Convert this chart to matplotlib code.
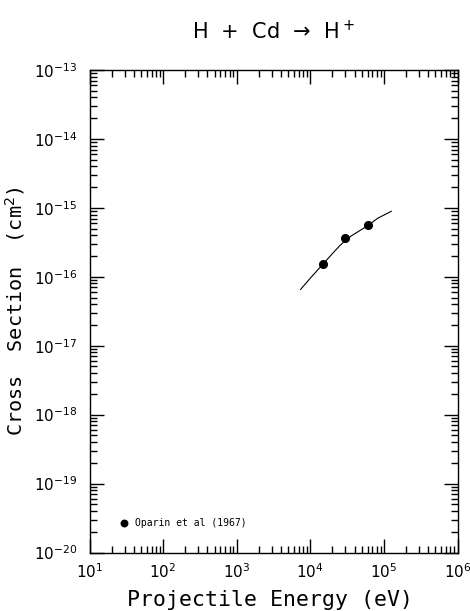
import matplotlib

matplotlib.use("Agg")
import matplotlib.pyplot as plt
from matplotlib.ticker import LogLocator, NullFormatter

# fitted curve (eV, cm^2)
curve_e = [7.38e3, 1.03e4, 1.48e4, 2.03e4, 2.51e4, 3.02e4, 3.63e4, 4.47e4, 5.86e4, 8.26e4, 1.26e5]
curve_sigma = [6.56e-17, 9.89e-17, 1.52e-16, 2.21e-16, 2.82e-16, 3.39e-16, 3.94e-16,
               4.52e-16, 5.40e-16, 7.08e-16, 8.91e-16]

# measured points
oparin_e = [1.5e4, 3.0e4, 6.0e4]
oparin_sigma = [1.51e-16, 3.71e-16, 5.62e-16]

# decade ticks
x_decades = [1e1, 1e2, 1e3, 1e4, 1e5, 1e6]
y_decades = [1e-20, 1e-19, 1e-18, 1e-17, 1e-16, 1e-15, 1e-14, 1e-13]

MONO = "DejaVu Sans Mono"

fig = plt.figure(figsize=(4.70, 6.11), dpi=100)
ax = fig.add_axes([89.5 / 470, 1 - 552.5 / 611, 368 / 470, 482.5 / 611])

ax.plot(curve_e, curve_sigma, color="black", lw=0.8)
ax.plot(oparin_e, oparin_sigma, "o", color="black", ms=5.5, label="Oparin et al (1967)")

ax.set_xscale("log")
ax.set_yscale("log")
ax.set_xticks(x_decades)
ax.set_yticks(y_decades)
ax.set_xlim(x_decades[0], x_decades[-1])
ax.set_ylim(y_decades[0], y_decades[-1])

for axis in (ax.xaxis, ax.yaxis):
    axis.set_minor_locator(LogLocator(base=10, subs=range(2, 10), numticks=20))
    axis.set_minor_formatter(NullFormatter())
ax.tick_params(which="both", direction="in", top=True, right=True, width=1)
ax.tick_params(which="major", length=10, labelsize=11)
ax.tick_params(which="minor", length=5)
ax.tick_params(axis="x", which="major", pad=7)
ax.tick_params(axis="y", which="major", pad=9)
for s in ax.spines.values():
    s.set_linewidth(1)

ax.set_xlabel("Projectile Energy (eV)", fontsize=15.5, family=MONO)
ax.xaxis.set_label_coords(0.49, -0.078)
ax.set_ylabel("Cross  Section  (cm$^2$)", fontsize=14.5, family=MONO)
ax.yaxis.set_label_coords(-0.171, 0.5)
ax.set_title("H  +  Cd  \u2192  H$^+$", fontsize=15, pad=22)

ax.legend(loc="center left", bbox_to_anchor=(0.084, 0.061), frameon=False,
          prop={"family": MONO, "size": 7}, handlelength=0.8, handletextpad=0.7,
          borderpad=0, borderaxespad=0, markerscale=0.85)

fig.savefig("out.png", dpi=100)
